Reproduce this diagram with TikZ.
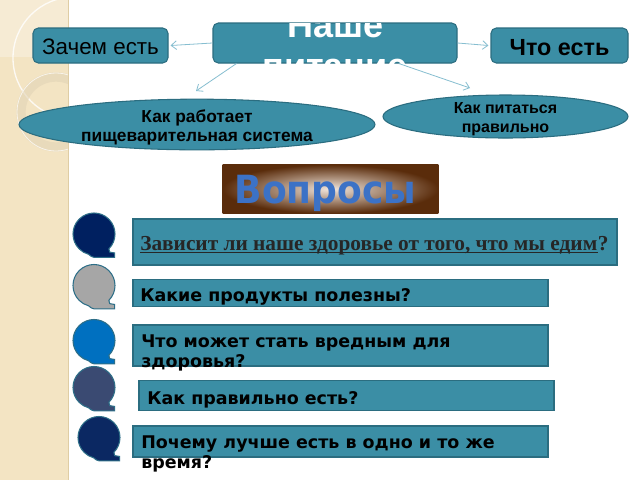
\documentclass[tikz,border=0pt]{standalone}
\usepackage{fontspec}
\setmainfont{Liberation Sans}
\newfontfamily\dvsans{DejaVu Sans}
\newfontfamily\serifF{Liberation Serif}
\usetikzlibrary{arrows.meta,shapes.geometric}
\definecolor{tealA}{HTML}{3B8EA5}
\definecolor{tealB}{HTML}{2B6D80}
\definecolor{connC}{HTML}{86BED0}
\definecolor{stripC}{HTML}{F3E4C3}
\definecolor{stripL}{HTML}{F6EBD4}
\definecolor{stripE}{HTML}{DFCDA4}
\definecolor{ringC}{HTML}{E2D4B6}
\definecolor{brownA}{HTML}{5A2C0B}
\definecolor{glowA}{HTML}{F2E6DC}
\definecolor{blueT}{HTML}{3C72C6}
\definecolor{qnavy}{HTML}{002060}
\definecolor{qgray}{HTML}{A6A6A6}
\definecolor{qblue}{HTML}{0070C0}
\definecolor{qslate}{HTML}{3A4A72}
\definecolor{qdark}{HTML}{0B2862}
\definecolor{qedge}{HTML}{2E6F88}
\definecolor{serT}{HTML}{262626}
\begin{document}
\begin{tikzpicture}[x=0.75pt,y=-0.75pt,
  rbox/.style={draw=tealB,fill=tealA,line width=0.8pt,rounded corners=4pt,inner sep=0pt},
  qbox/.style={draw=tealB,fill=tealA,line width=0.8pt,inner sep=0pt},
  oval/.style={ellipse,draw=tealB,fill=tealA,line width=0.8pt,inner sep=0pt},
  conn/.style={draw=connC,line width=0.6pt,-{Straight Barb[length=4pt,width=6.5pt]}},
  qtext/.style={anchor=base west,inner sep=0pt,font=\dvsans\bfseries\fontsize{13.1}{15}\selectfont,text=black},
  otext/.style={anchor=base,inner sep=0pt,text=black},
  pics/qbub/.style={code={
    \filldraw[fill=#1,draw=qedge,line width=0.8pt]
      (-45:15.75pt) arc[start angle=-45,end angle=255,radius=15.75pt]
      .. controls (-3pt,-16.5pt) and (-1pt,-17.5pt) .. (0pt,-17.5pt)
      -- (15.5pt,-17.5pt) -- (15.5pt,-14.2pt) -- (11.8pt,-13.6pt) -- cycle;
  }}
]
\useasboundingbox (0,0) rectangle (640,480);
\fill[white] (0,0) rectangle (640,480);
% left decorative strip
\begin{scope}
  \clip (0,0) rectangle (68,480);
  \fill[stripC] (0,0) rectangle (68,480);
  \fill[stripL] (0,0) rectangle (68,57);
  \draw[white,line width=1pt,opacity=0.8] (74,58) circle[radius=61];
  \draw[ringC,line width=7pt,opacity=0.6] (56,112) circle[radius=35];
  \draw[white,line width=0.6pt,opacity=0.7] (56,112) circle[radius=39];
\end{scope}
\draw[stripE,line width=1pt] (68.5,0) -- (68.5,480);

% top boxes
\node[rbox,minimum width=183pt,minimum height=30pt] (nashe) at (335,43) {};
\begin{scope}
  \clip[rounded corners=4pt] (213,23) rectangle (457,63);
  \node[anchor=base,inner sep=0pt,text=white,font=\bfseries\fontsize{27}{31}\selectfont] (nashe1) at (336,37) {Наше};
  \node[anchor=base,inner sep=0pt,text=white,font=\bfseries\fontsize{27}{31}\selectfont] (nashe2) at (335,78) {питание};
\end{scope}
\node[rbox,minimum width=101.25pt,minimum height=26.25pt,text height=12.75pt,text depth=0pt,
      font=\fontsize{16.8}{19}\selectfont] (zachem) at (100.5,45.5) {Зачем есть};
\node[rbox,minimum width=102.75pt,minimum height=26.25pt,text height=14.25pt,text depth=0pt,
      font=\bfseries\fontsize{17.5}{20}\selectfont] (chto) at (559.5,45.5) {Что есть};

% ellipses
\node[oval,minimum width=267pt,minimum height=38pt] (rabota) at (197,124.5) {};
\node[otext,font=\bfseries\fontsize{13}{14}\selectfont] (rabota1) at (197,122) {Как работает};
\node[otext,font=\bfseries\fontsize{13}{14}\selectfont] (rabota2) at (197,141) {пищеварительная система};
\node[oval,minimum width=183.75pt,minimum height=32.25pt] (pravil) at (505.5,116.5) {};
\node[otext,font=\bfseries\fontsize{12}{14}\selectfont] (pravil1) at (505.5,113) {Как питаться};
\node[otext,font=\bfseries\fontsize{12}{14}\selectfont] (pravil2) at (505.5,132) {правильно};

% connectors
\coordinate (t3) at (196,91);
\coordinate (t4) at (470,88);
\draw[conn] (nashe.west) -- ([shift={(1.5pt,0pt)}]zachem.east);
\draw[conn] (nashe.east) -- ([shift={(-1.5pt,0pt)}]chto.west);
\draw[conn] ([xshift=18pt]nashe.south west) -- (t3);
\draw[conn] ([xshift=-44pt]nashe.south east) -- (t4);

% Voprosy banner
\node[inner sep=0pt,minimum width=161.25pt,minimum height=36pt,fill=brownA] (vopr) at (330.5,189) {};
\shade[inner color=glowA,outer color=brownA] (vopr.south west) rectangle (vopr.north east);
\node[anchor=base,inner sep=0pt,text=blueT,font=\dvsans\bfseries\fontsize{26}{30}\selectfont] (voprT) at (325.5,203) {\scalebox{1.04}[1.12]{Вопросы}};

% question bubbles
\pic at (94,234) {qbub=qnavy};
\pic at (94,285.5) {qbub=qgray};
\pic at (94,340.5) {qbub=qblue};
\pic at (94,387.5) {qbub=qslate};
\pic at (99,437.5) {qbub=qdark};

% question boxes
\node[qbox,minimum width=363pt,minimum height=34.5pt] (q1) at (375,242) {};
\node[qbox,minimum width=311.25pt,minimum height=20.25pt] (q2) at (340.5,293) {};
\node[qbox,minimum width=311.25pt,minimum height=30.75pt] (q3) at (340.5,345.5) {};
\node[qbox,minimum width=311.25pt,minimum height=22.5pt] (q4) at (346.5,395.5) {};
\node[qbox,minimum width=311.25pt,minimum height=23.25pt] (q5) at (340.5,441.5) {};

% question texts
\node[anchor=base west,inner sep=0pt,text=serT,font=\serifF\bfseries\fontsize{16}{18}\selectfont] (q1a) at (140,250) {Зависит ли наше здоровье от того, что мы едим};
\node[anchor=base west,inner sep=0pt,text=serT,font=\serifF\bfseries\fontsize{16}{18}\selectfont] (q1b) at (q1a.base east) {?};
\draw[serT,line width=0.8pt] ([yshift=-1.6pt]q1a.base west) -- ([yshift=-1.6pt]q1a.base east);
\node[qtext] (q2t) at (140,301) {Какие продукты полезны?};
\node[qtext] (q3t) at (141,347) {Что может стать вредным для};
\node[qtext] (q3u) at (141,367) {здоровья?};
\node[qtext] (q4t) at (147,404) {Как правильно есть?};
\node[qtext] (q5t) at (141,448) {Почему лучше есть в одно и то же};
\node[qtext] (q5u) at (141,468) {время?};
\end{tikzpicture}
\end{document}
